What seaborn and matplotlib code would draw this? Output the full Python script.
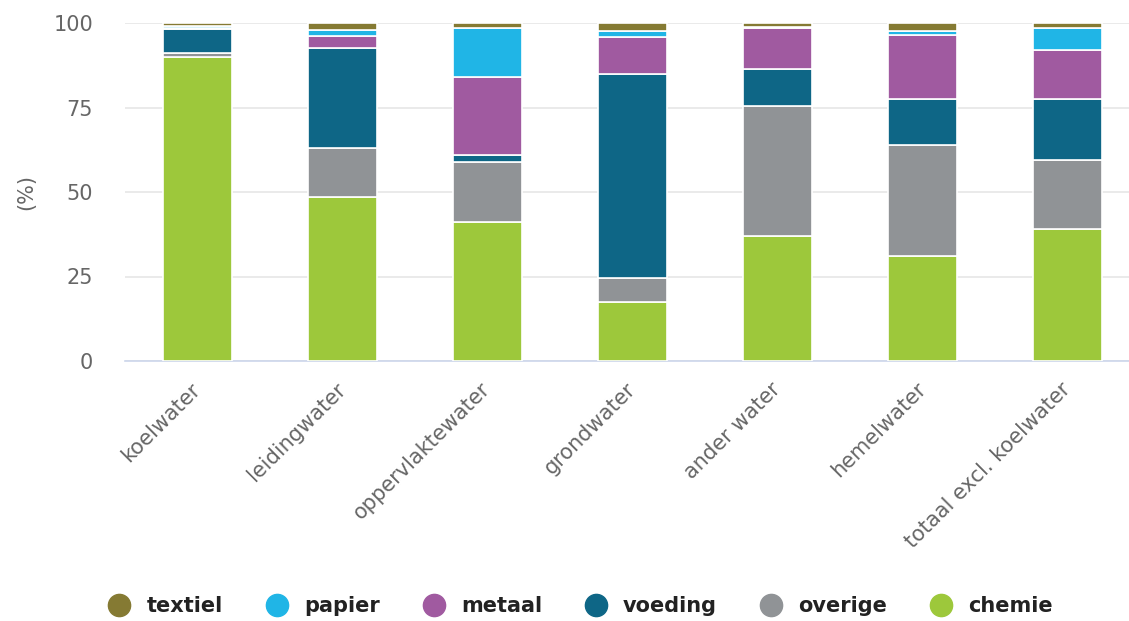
import matplotlib
matplotlib.use("Agg")
import matplotlib.pyplot as plt
import matplotlib.transforms as mtransforms
import seaborn as sns
import numpy as np
from matplotlib.lines import Line2D

categories = ['koelwater', 'leidingwater', 'oppervlaktewater', 'grondwater',
              'ander water', 'hemelwater', 'totaal excl. koelwater']

# stacked bottom -> top
chemie = [90.0, 48.5, 41.0, 17.5, 37.0, 31.0, 39.0]
overige = [1.2, 14.5, 18.0, 7.0, 38.5, 33.0, 20.5]
voeding = [7.0, 29.5, 2.0, 60.5, 11.0, 13.5, 18.0]
metaal = [0.3, 3.8, 23.0, 11.0, 12.0, 19.0, 14.5]
papier = [0.5, 1.5, 14.5, 1.5, 0.3, 1.2, 6.5]
textiel = [1.0, 2.2, 1.5, 2.5, 1.2, 2.3, 1.5]

series = [('chemie', chemie, '#9dc83b'),
          ('overige', overige, '#909396'),
          ('voeding', voeding, '#0e6686'),
          ('metaal', metaal, '#a05aa0'),
          ('papier', papier, '#20b5e6'),
          ('textiel', textiel, '#857a33')]

sns.set_theme(style="white")
plt.rcParams['font.family'] = ['DejaVu Sans']

fig = plt.figure(figsize=(11.29, 6.21), dpi=100)
ax = fig.add_axes([125 / 1129, 260 / 621, 1015 / 1129, 338 / 621])

bottom = np.zeros(len(categories))
for name, vals, col in series:
    sns.barplot(x=categories, y=vals, bottom=bottom, color=col, width=0.475,
                saturation=1, edgecolor='white', linewidth=1.2, ax=ax, zorder=3)
    bottom = bottom + np.array(vals)

ax.set_xlim(-0.5, 6.5)
ax.set_ylim(0, 100)
ax.set_yticks([0, 25, 50, 75, 100])
ax.yaxis.grid(True, color='#e6e6e6', linewidth=1.2, zorder=0)
for s in ['top', 'right', 'left']:
    ax.spines[s].set_visible(False)
ax.spines['bottom'].set_color('#ccd6eb')
ax.spines['bottom'].set_linewidth(1.2)
ax.tick_params(axis='y', length=0, pad=23, labelsize=15, labelcolor='#666666')
ax.tick_params(axis='x', length=0, pad=13, labelsize=15, labelcolor='#666666')
shift = mtransforms.ScaledTranslation(-7 / 100, 0, fig.dpi_scale_trans)
for lbl in ax.get_xticklabels():
    lbl.set_rotation(45)
    lbl.set_ha('right')
    lbl.set_rotation_mode('anchor')
    lbl.set_transform(lbl.get_transform() + shift)
ax.set_ylabel('(%)', fontsize=15, color='#666666', labelpad=12)
ax.set_xlabel('')

handles = [Line2D([], [], marker='o', linestyle='none', markersize=16,
                  markerfacecolor=col, markeredgecolor=col, label=name)
           for name, _, col in series[::-1]]
fig.legend(handles=handles, loc='center', bbox_to_anchor=(0.51, 0.024), ncol=6,
           frameon=False, handletextpad=0.3, columnspacing=1.6,
           prop={'size': 15, 'weight': 'bold'}, labelcolor='#222222')

fig.savefig('out.png', dpi=100)
